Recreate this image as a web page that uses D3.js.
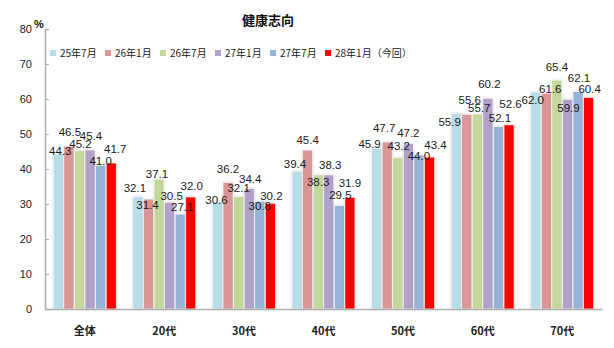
<!DOCTYPE html>
<html><head><meta charset="utf-8">
<script src="https://cdn.jsdelivr.net/npm/d3@7"></script>
<style>
html,body{margin:0;padding:0;background:#fff;}
svg{display:block;}
</style></head>
<body>
<script>
// ---- data ----
const categories = ["全体","20代","30代","40代","50代","60代","70代"];
const seriesNames = ["25年7月","26年1月","26年7月","27年1月","27年7月","28年1月（今回）"];
const s25jul = [44.3, 32.1, 30.6, 39.4, 45.9, 55.9, 62.0];
const s26jan = [46.5, 31.4, 36.2, 45.4, 47.7, 55.6, 61.6];
const s26jul = [45.2, 37.1, 32.1, 38.3, 43.2, 55.7, 65.4];
const s27jan = [45.4, 30.5, 34.4, 38.3, 47.2, 60.2, 59.9];
const s27jul = [41.0, 27.1, 30.8, 29.5, 44.0, 52.1, 62.1];
const s28jan = [41.7, 32.0, 30.2, 31.9, 43.4, 52.6, 60.4];
const seriesValues = [s25jul, s26jan, s26jul, s27jan, s27jul, s28jan];
const yTicks = [0,10,20,30,40,50,60,70,80];
const colors = ["#B7DEE8","#DA9694","#C4D79B","#B1A0C7","#95B3D7","#FF0000"];

// label nudges (per category, per series) – layout only
const labelDx = [
  [2,1,1,1,0,4],
  [-3,-1,-2,2,2,1],
  [-1,0,0,1,0,1],
  [-2,0,0,1.5,1,0],
  [-7,-3,1,0,0,6],
  [-6.5,3,2,1.5,1.5,1.5],
  [-3,4,0,1,1,1]
];
const labelDy = [
  [-3,-14,-6.5,-14,-4.5,-14],
  [-8.7,6,-5,-6,-7,-11],
  [-2,-13,-8.7,-9.6,4.5,-7],
  [-7,-10,7,-10,-10.7,-14],
  [-4,-14,-12,-11,0.7,-12],
  [9,-15,-6,-14,-9,-20.6],
  [8,-5,-13.4,8.3,-13.3,-8.6]
];

const W = 614, H = 348;
const svg = d3.select("body").append("svg").attr("width", W).attr("height", H);

const defs = svg.append("defs");
const f = defs.append("filter").attr("id","glow").attr("x","-30%").attr("y","-10%").attr("width","160%").attr("height","120%");
f.append("feDropShadow").attr("dx",0).attr("dy",0).attr("stdDeviation",0.9)
  .attr("flood-color","#888").attr("flood-opacity",0.45);

const x0 = d3.scaleBand().domain(categories).range([45, 602]).padding(0);
const x1 = d3.scaleBand().domain(d3.range(seriesNames.length)).range([8, 71.5]).padding(0);
const y = d3.scaleLinear().domain([0, 80]).range([309, 29]);

const cjk = "'Noto Sans CJK JP', 'Noto Sans', sans-serif";
const num = "'Liberation Sans', Arial, sans-serif";

// bars
const g = svg.append("g");
categories.forEach((c, ci) => {
  seriesValues.forEach((vals, si) => {
    const v = vals[ci];
    g.append("rect")
      .attr("x", x0(c) + x1(si) + 0.3)
      .attr("y", y(v))
      .attr("width", x1.bandwidth() - 0.6)
      .attr("height", y(0) - y(v))
      .attr("fill", colors[si])
      .attr("stroke", "#ffffff")
      .attr("stroke-width", 0.6)
      .attr("filter", "url(#glow)");
  });
});

// axes
const yAxis = d3.axisLeft(y).tickValues(yTicks).tickSize(-4).tickPadding(13).tickFormat(d3.format("d"));
const ya = svg.append("g").attr("transform","translate(45,0)").call(yAxis);
ya.select(".domain").attr("stroke","#b0b0b0").attr("stroke-width",1.6);
ya.selectAll(".tick line").attr("stroke","#b0b0b0").attr("stroke-width",1);
ya.selectAll("text").attr("font-family", num).attr("font-size", 11).attr("fill","#222");

const xAxis = d3.axisBottom(x0).tickSize(0).tickPadding(18);
const xa = svg.append("g").attr("transform","translate(0,309)").call(xAxis);
xa.select(".domain").attr("stroke","#b0b0b0").attr("stroke-width",1.6);
xa.selectAll("text").attr("font-family", cjk).attr("font-size", 11).attr("font-weight","bold").attr("fill","#222");

// data labels
const lg = svg.append("g");
categories.forEach((c, ci) => {
  seriesValues.forEach((vals, si) => {
    const v = vals[ci];
    lg.append("text")
      .attr("x", x0(c) + x1(si) + x1.bandwidth()/2 + labelDx[ci][si])
      .attr("y", y(v) + labelDy[ci][si])
      .attr("dy", "0.36em")
      .attr("text-anchor","middle")
      .attr("font-family", num)
      .attr("font-size", 11.5)
      .attr("fill","#1a1a1a")
      .text(d3.format(".1f")(v));
  });
});

// title & unit
svg.append("text").attr("x", 268).attr("y", 20).attr("dy","0.36em").attr("text-anchor","middle")
  .attr("font-family", cjk).attr("font-size", 13).attr("font-weight","bold").attr("fill","#111").text("健康志向");
svg.append("text").attr("x", 39).attr("y", 24).attr("dy","0.36em").attr("text-anchor","middle")
  .attr("font-family", num).attr("font-size", 11).attr("font-weight","bold").attr("fill","#111").text("%");

// legend
const leg = svg.append("g");
seriesNames.forEach((n, i) => {
  const lx = 50 + 55 * i;
  leg.append("rect").attr("x", lx).attr("y", 50).attr("width", 6).attr("height", 6).attr("fill", colors[i]);
  leg.append("text").attr("x", lx + 10).attr("y", 53).attr("dy","0.36em")
    .attr("font-family", cjk).attr("font-size", 10).attr("fill","#222").text(n);
});
</script>
</body></html>
